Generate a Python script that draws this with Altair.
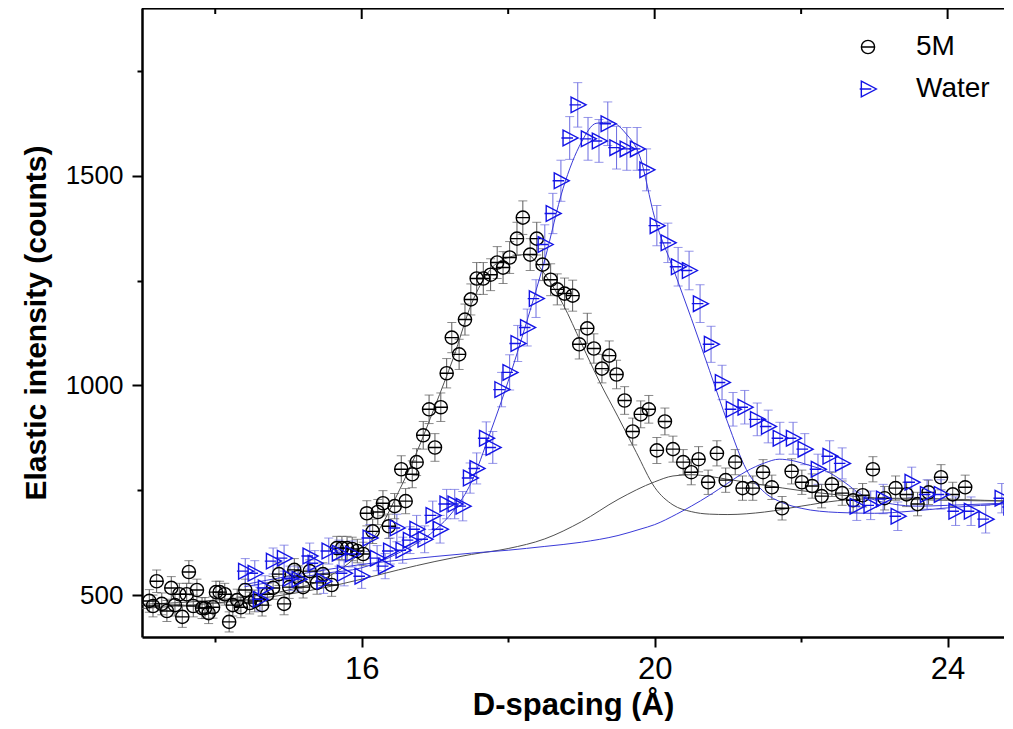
import altair as alt
import pandas as pd

# ---------------- data ----------------
X_5M = [13.10, 13.15, 13.20, 13.27, 13.34, 13.40, 13.45, 13.51, 13.55, 13.61,
        13.64, 13.70, 13.75, 13.82, 13.86, 13.91, 13.97, 14.01, 14.06, 14.13,
        14.19, 14.24, 14.30, 14.35, 14.41, 14.47, 14.54, 14.64, 14.71, 14.79,
        14.87, 14.94, 15.01, 15.08, 15.13, 15.20, 15.29, 15.39, 15.47, 15.59,
        15.66, 15.73, 15.80, 15.87, 15.94, 16.02, 16.07, 16.15, 16.22, 16.29,
        16.37, 16.45, 16.54, 16.60, 16.69, 16.75, 16.84, 16.92, 17.00, 17.08,
        17.16, 17.23, 17.33, 17.41, 17.49, 17.57, 17.66, 17.76, 17.85, 17.93,
        18.02, 18.12, 18.20, 18.30, 18.39, 18.47, 18.58, 18.67, 18.77, 18.88,
        18.97, 19.08, 19.17, 19.28, 19.38, 19.48, 19.59, 19.70, 19.81, 19.92,
        20.03, 20.14, 20.25, 20.39, 20.50, 20.60, 20.73, 20.85, 20.97, 21.10,
        21.20, 21.34, 21.48, 21.60, 21.74, 21.87, 22.01, 22.15, 22.28, 22.42,
        22.56, 22.71, 22.84, 22.98, 23.14, 23.29, 23.44, 23.59, 23.74, 23.91,
        24.07, 24.24]
Y_5M = [486, 474, 533, 479, 462, 517, 476, 502, 448, 502,
        555, 474, 512, 469, 469, 457, 471, 507, 507, 502,
        436, 476, 488, 471, 512, 481, 486, 476, 502, 517,
        550, 479, 519, 560, 543, 519, 557, 529, 550, 524,
        612, 612, 612, 610, 605, 598, 695, 652, 698, 719,
        664, 712, 800, 724, 788, 817, 881, 943, 852, 948,
        1029, 1114, 1074, 1157, 1205, 1255, 1255, 1264, 1293, 1281,
        1305, 1350, 1400, 1312, 1350, 1288, 1252, 1229, 1219, 1214,
        1098, 1136, 1088, 1040, 1071, 1026, 964, 890, 931, 943,
        845, 914, 848, 817, 793, 824, 769, 838, 774, 817,
        755, 755, 793, 757, 707, 795, 769, 760, 736, 764,
        743, 726, 738, 800, 731, 755, 740, 717, 745, 781,
        740, 757]
E_5M = [27, 26, 27, 26, 25, 27, 26, 26, 25, 26,
        27, 26, 26, 25, 25, 25, 26, 26, 26, 26,
        24, 26, 26, 25, 26, 26, 26, 26, 26, 27,
        27, 26, 27, 27, 27, 26, 27, 27, 27, 27,
        28, 28, 28, 28, 28, 28, 30, 29, 30, 30,
        29, 30, 32, 30, 32, 32, 33, 34, 33, 34,
        35, 36, 36, 37, 37, 38, 38, 38, 38, 38,
        38, 39, 40, 38, 39, 38, 38, 37, 37, 37,
        35, 36, 35, 34, 35, 34, 33, 32, 32, 33,
        31, 32, 31, 30, 30, 30, 29, 30, 29, 30,
        29, 29, 30, 29, 28, 30, 29, 29, 28, 29,
        29, 28, 28, 30, 28, 29, 29, 28, 29, 30,
        29, 29]

X_W = [14.41, 14.54, 14.61, 14.68, 14.79, 14.94, 15.02, 15.14, 15.29, 15.36,
       15.48, 15.55, 15.69, 15.76, 15.87, 16.00, 16.11, 16.21, 16.32, 16.39,
       16.48, 16.56, 16.66, 16.75, 16.86, 16.97, 17.07, 17.16, 17.27, 17.38,
       17.48, 17.57, 17.70, 17.79, 17.91, 18.02, 18.13, 18.26, 18.38, 18.50,
       18.61, 18.72, 18.84, 18.95, 19.09, 19.24, 19.36, 19.48, 19.62, 19.76,
       19.89, 20.03, 20.18, 20.32, 20.47, 20.62, 20.77, 20.92, 21.07, 21.23,
       21.40, 21.55, 21.71, 21.89, 22.05, 22.23, 22.39, 22.56, 22.76, 22.95,
       23.12, 23.32, 23.51, 23.72, 23.91, 24.11, 24.32, 24.52, 24.74, 24.86]
Y_W = [557, 552, 490, 517, 581, 588, 540, 538, 593, 576,
       533, 605, 600, 552, 598, 545, 636, 588, 569, 605,
       660, 607, 631, 657, 633, 690, 657, 717, 717, 712,
       779, 802, 874, 852, 990, 1031, 1100, 1138, 1207, 1336,
       1410, 1488, 1590, 1669, 1588, 1583, 1624, 1567, 1564, 1564,
       1514, 1381, 1340, 1283, 1274, 1195, 1098, 1007, 943, 948,
       919, 902, 874, 874, 848, 800, 831, 814, 712, 714,
       729, 688, 769, 740, 740, 700, 700, 681, 731, 710]
E_W = [30, 30, 28, 29, 31, 31, 29, 29, 31, 30,
       29, 31, 31, 30, 31, 29, 32, 30, 30, 31,
       33, 31, 32, 33, 32, 34, 33, 35, 35, 35,
       36, 37, 39, 38, 41, 42, 43, 44, 45, 47,
       48, 49, 51, 53, 51, 51, 52, 51, 51, 51,
       50, 48, 47, 46, 46, 45, 43, 41, 40, 40,
       39, 39, 38, 38, 37, 36, 37, 37, 34, 34,
       35, 34, 36, 35, 35, 34, 34, 33, 35, 34]

# fitted curves
FIT5_X = [13.0, 13.5, 14.0, 14.5, 15.0, 15.5, 16.0, 16.25, 16.5, 16.75,
          17.0, 17.25, 17.5, 17.75, 18.0, 18.25, 18.5, 18.75, 19.0, 19.25,
          19.5, 19.75, 20.0, 20.25, 20.5, 20.75, 21.0, 21.5, 22.0, 22.5,
          23.0, 23.5, 24.0, 24.5, 24.9]
FIT5_Y = [478, 482, 488, 497, 512, 540, 605, 660, 745, 840,
          950, 1065, 1195, 1275, 1305, 1312, 1265, 1193, 1100, 1008,
          925, 840, 757, 715, 699, 693, 692, 698, 712, 725,
          730, 731, 729, 726, 724]
COMP5_X = [13.0, 13.5, 14.0, 14.5, 15.0, 15.5, 16.0, 16.5, 17.0, 17.5,
           18.0, 18.5, 19.0, 19.5, 20.0, 20.25, 20.5, 20.75, 21.0, 21.5,
           22.0, 22.5, 23.0, 23.5, 24.0, 24.9]
COMP5_Y = [468, 474, 481, 490, 502, 518, 538, 560, 580, 597,
           611, 634, 675, 728, 770, 784, 787, 783, 776, 762,
           749, 739, 732, 728, 726, 724]
FITW_X = [14.4, 15.0, 15.5, 16.0, 16.5, 17.0, 17.25, 17.5, 17.75, 18.0,
          18.25, 18.5, 18.75, 19.0, 19.2, 19.4, 19.6, 19.8, 20.0, 20.25,
          20.5, 20.75, 21.0, 21.25, 21.5, 21.75, 22.0, 22.5, 23.0, 23.5,
          24.0, 24.9]
FITW_Y = [520, 538, 552, 565, 600, 655, 700, 770, 885, 1010,
          1150, 1300, 1470, 1580, 1625, 1628, 1602, 1545, 1400, 1280,
          1160, 1035, 910, 800, 745, 720, 707, 697, 695, 700,
          708, 719]
COMPW_X = [14.4, 15.0, 15.5, 16.0, 16.5, 17.0, 17.5, 18.0, 18.5, 19.0,
           19.5, 19.8, 20.0, 20.3, 20.5, 20.75, 21.0, 21.25, 21.5, 21.7,
           21.9, 22.1, 22.35, 22.6, 22.8, 23.0, 23.25, 23.6, 24.0, 24.9]
COMPW_Y = [525, 545, 560, 573, 583, 592, 600, 607, 616, 626,
           642, 657, 668, 693, 712, 738, 767, 795, 815, 824,
           820, 810, 795, 768, 742, 727, 717, 712, 714, 720]

SERIES = ["5M", "Water"]
X_MAJOR = [16, 20, 24]
X_MINOR = [14, 18, 22]
Y_TICKS = [500, 750, 1000, 1250, 1500, 1750]

# ---------------- tables ----------------
pts = pd.concat([
    pd.DataFrame({"d": X_5M, "I": Y_5M, "err": E_5M, "series": SERIES[0]}),
    pd.DataFrame({"d": X_W, "I": Y_W, "err": E_W, "series": SERIES[1]}),
], ignore_index=True)
pts["lo"] = pts["I"] - pts["err"]
pts["hi"] = pts["I"] + pts["err"]

fits = pd.concat([
    pd.DataFrame({"d": FIT5_X, "I": FIT5_Y, "curve": "fit5", "series": "5M"}),
    pd.DataFrame({"d": COMP5_X, "I": COMP5_Y, "curve": "comp5", "series": "5M"}),
    pd.DataFrame({"d": FITW_X, "I": FITW_Y, "curve": "fitW", "series": "Water"}),
    pd.DataFrame({"d": COMPW_X, "I": COMPW_Y, "curve": "compW", "series": "Water"}),
], ignore_index=True)

major_df = pd.DataFrame({"d": X_MAJOR})
minor_df = pd.DataFrame({"d": X_MINOR})

# ---------------- styling ----------------
W, H = 862, 629
SANS = "Liberation Sans, Arial, sans-serif"
BLUE = "#1414e6"
BLUE_ERR = "#6a6ae0"
BLUE_FIT = "#3a3ad8"
GRAY_ERR = "#5a5a5a"
GRAY_FIT = "#505050"

circ_path = "M-1,0A1,1,0,1,0,1,0A1,1,0,1,0,-1,0ZM-1,0L1,0"
tri_path = "M-0.85,-1L1.06,0L-0.85,1ZM-1.06,0L0.42,0"

xscale = alt.Scale(domain=[13, 24.77], nice=False, zero=False)
yscale = alt.Scale(domain=[400, 1900], nice=False, zero=False)

xaxis = alt.Axis(
    values=X_MINOR + X_MAJOR, format="d", grid=False,
    labelExpr="datum.value % 4 === 0 ? datum.label : ''",
    tickSize={"condition": {"test": "datum.value % 4 === 0", "value": 10}, "value": 5},
    title="D-spacing (Å)",
    labelFont=SANS, labelFontSize=31, labelPadding=7, labelColor="black",
    titleFont=SANS, titleFontSize=31, titleFontWeight="bold", titleColor="black",
    titlePadding=6,
    domainColor="black", domainWidth=2.5, tickColor="black", tickWidth=2,
)
yaxis = alt.Axis(
    values=Y_TICKS, format="d", grid=False,
    labelExpr="datum.value % 500 === 0 ? datum.label : ''",
    tickSize={"condition": {"test": "datum.value % 500 === 0", "value": 10}, "value": 5},
    title="Elastic intensity (counts)",
    labelFont=SANS, labelFontSize=26, labelPadding=9, labelColor="black",
    titleFont=SANS, titleFontSize=30, titleFontWeight="bold", titleColor="black",
    titlePadding=14,
    domainColor="black", domainWidth=2.5, tickColor="black", tickWidth=2,
)

X = alt.X("d:Q", scale=xscale, axis=xaxis)

err_color = alt.condition("datum.series === '5M'", alt.value(GRAY_ERR), alt.value(BLUE_ERR))

base = alt.Chart(pts)

err_rules = base.mark_rule(strokeWidth=1, clip=True).encode(
    x=X,
    y=alt.Y("lo:Q", scale=yscale, axis=yaxis),
    y2="hi:Q",
    color=err_color,
)
cap_lo = base.mark_tick(orient="horizontal", size=9, thickness=1, clip=True).encode(
    x=X,
    y=alt.Y("lo:Q", scale=yscale, axis=yaxis),
    color=err_color,
)
cap_hi = base.mark_tick(orient="horizontal", size=9, thickness=1, clip=True).encode(
    x=X,
    y=alt.Y("hi:Q", scale=yscale, axis=yaxis),
    color=err_color,
)

fit_lines = alt.Chart(fits).mark_line(strokeWidth=1, interpolate="monotone", clip=True).encode(
    x=X,
    y=alt.Y("I:Q", scale=yscale, axis=yaxis),
    detail="curve:N",
    color=alt.condition("datum.series === '5M'", alt.value(GRAY_FIT), alt.value(BLUE_FIT)),
)

legend = alt.Legend(
    orient="none", legendX=712, legendY=25, title=None,
    labelFont=SANS, labelFontSize=28, labelColor="black",
    labelOffset=34, rowPadding=14, symbolSize=150, symbolStrokeWidth=1.4,
    padding=0,
)
points = base.mark_point(filled=False, strokeWidth=1.4, opacity=1, clip=True).encode(
    x=X,
    y=alt.Y("I:Q", scale=yscale, axis=yaxis),
    shape=alt.Shape("series:N", scale=alt.Scale(domain=SERIES, range=[circ_path, tri_path]), legend=legend),
    color=alt.Color("series:N", scale=alt.Scale(domain=SERIES, range=["#000000", BLUE]), legend=legend),
    size=alt.Size("series:N", scale=alt.Scale(domain=SERIES, range=[175, 246]), legend=None),
)

top_major = alt.Chart(major_df).mark_rule(strokeWidth=2, color="black").encode(
    x=X, y=alt.value(0), y2=alt.value(11),
)
top_minor = alt.Chart(minor_df).mark_rule(strokeWidth=2, color="black").encode(
    x=X, y=alt.value(0), y2=alt.value(6),
)
top_frame = alt.Chart(major_df).mark_rule(strokeWidth=2.5, color="black").encode(
    x=alt.value(0), x2=alt.value(W), y=alt.value(0),
)

chart = alt.layer(
    err_rules, cap_lo, cap_hi, fit_lines, points, top_major, top_minor, top_frame
).properties(
    width=W, height=H,
    background="white",
    autosize=alt.AutoSizeParams(type="none"),
    padding={"left": 134, "top": 0, "right": 0, "bottom": 84},
).configure_view(
    stroke=None
).configure_axis(
    grid=False, domainColor="black", domainWidth=2.5, tickColor="black", tickWidth=2,
)

chart.save("out.html", embed_options={"renderer": "svg", "actions": False})
